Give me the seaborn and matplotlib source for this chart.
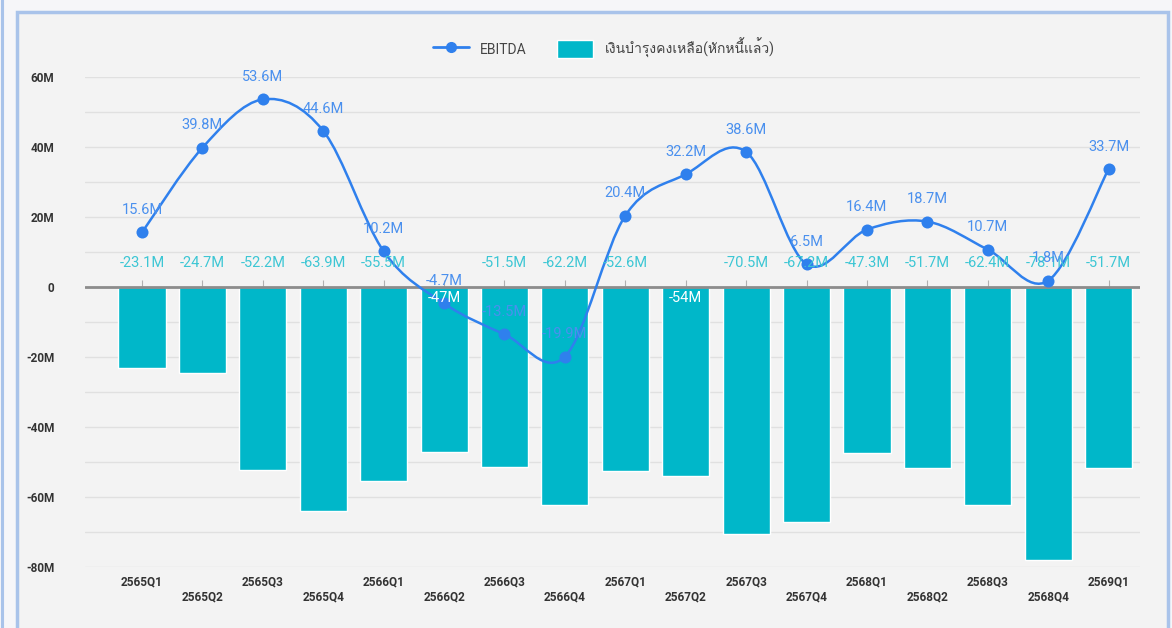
import numpy as np
import pandas as pd
import seaborn as sns
import matplotlib.pyplot as plt
from matplotlib import font_manager, ft2font
from matplotlib.path import Path
from matplotlib.patches import PathPatch, Rectangle
from matplotlib.lines import Line2D

quarters = ['2565Q1', '2565Q2', '2565Q3', '2565Q4', '2566Q1', '2566Q2', '2566Q3', '2566Q4',
            '2567Q1', '2567Q2', '2567Q3', '2567Q4', '2568Q1', '2568Q2', '2568Q3', '2568Q4', '2569Q1']
ebitda = [15.6, 39.8, 53.6, 44.6, 10.2, -4.7, -13.5, -19.9, 20.4, 32.2, 38.6, 6.5, 16.4, 18.7, 10.7, 1.8, 33.7]
balance = [-23.1, -24.7, -52.2, -63.9, -55.5, -47, -51.5, -62.2, -52.6, -54, -70.5, -67.2, -47.3, -51.7, -62.4, -78.1, -51.7]
ebitda_label = 'EBITDA'
balance_label = 'เงินบำรุงคงเหลือ(หักหนี้แล้ว)'

BAR = '#00b7c9'
BAR_TXT = '#3cc6d4'
LINE = '#2f80ed'
LINE_TXT = '#4a90ee'
BG = '#f3f3f3'

# find a font that has Thai glyphs
thai = []
for f in font_manager.fontManager.ttflist:
    try:
        if ft2font.FT2Font(f.fname).get_char_index(0x0E07):
            thai.append(f.name)
    except Exception:
        pass

sns.set_style('white')
plt.rcParams['font.family'] = ['Roboto'] + thai[:1] + ['DejaVu Sans']

df = pd.DataFrame({'q': quarters, 'ebitda': ebitda, 'bal': balance})
xs = np.arange(len(df))

fig = plt.figure(figsize=(11.72, 6.28), dpi=100, facecolor='#f6f6f9')
fig.patches.append(Rectangle((17 / 1172, -0.05), 1151 / 1172, 1 - 12 / 628 + 0.05, transform=fig.transFigure,
                             facecolor=BG, edgecolor='#a9c3ea', lw=2.5, zorder=0))
fig.patches.append(Rectangle((2 / 1172, -0.05), 1 / 1172, 1.1, transform=fig.transFigure,
                             facecolor='#a9c3ea', edgecolor='#a9c3ea', lw=1.5, zorder=0))

ax = fig.add_axes([85 / 1172, 1 - 567 / 628, 1055 / 1172, 490 / 628])
ax.set_zorder(2)
ax.set_facecolor(BG)

sns.barplot(data=df, x='q', y='bal', color=BAR, saturation=1, width=0.78, ax=ax, zorder=2)

# smooth EBITDA line (cardinal spline through the data points)
pts = np.column_stack([xs, df['ebitda'].values])
verts = [pts[0]]
codes = [Path.MOVETO]
n = len(pts)
for i in range(n - 1):
    p0 = pts[max(i - 1, 0)]
    p1 = pts[i]
    p2 = pts[i + 1]
    p3 = pts[min(i + 2, n - 1)]
    c1 = p1 + (p2 - p0) / 6
    c2 = p2 - (p3 - p1) / 6
    verts += [c1, c2, p2]
    codes += [Path.CURVE4] * 3
ax.add_patch(PathPatch(Path(verts, codes), facecolor='none', edgecolor=LINE, lw=1.8, zorder=4))
sns.scatterplot(data=df, x='q', y='ebitda', color=LINE, s=75, edgecolor=LINE, linewidth=0, ax=ax, zorder=5)

# labels
inside = {5, 9}
for i, v in enumerate(df['bal']):
    lab = f'{v:g}M'
    if i in inside:
        ax.text(i, -3.2, lab, ha='center', va='center', fontsize=10.5, color='white', zorder=6)
    else:
        ax.text(i, 6.9, lab, ha='center', va='center', fontsize=10.5, color=BAR_TXT, zorder=6)
for i, v in enumerate(df['ebitda']):
    ax.annotate(f'{v:g}M', (i, v), xytext=(0, 11), textcoords='offset points',
                ha='center', va='bottom', fontsize=10.5, color=LINE_TXT, zorder=6)

ax.set_ylim(-80, 60)
ax.set_xlim(-0.944, 16.52)
ax.set_yticks(np.arange(-80, 61, 20))
ax.set_yticks(np.arange(-70, 60, 20), minor=True)
ax.set_yticklabels([('0' if t == 0 else f'{t}M') for t in range(-80, 61, 20)])
ax.grid(axis='y', which='both', color='#e0e0e0', lw=1, zorder=0)
ax.axhline(0, color='#8c8c8c', lw=2, zorder=3)
ax.set_xticks(xs)
ax.set_xticklabels([q if i % 2 == 0 else '\n' + q for i, q in enumerate(quarters)])
ax.tick_params(axis='x', length=0, labelsize=8.5, labelcolor='#333333', pad=6)
ax.tick_params(axis='y', which='both', length=0, labelsize=8.5, labelcolor='#333333', pad=22)
for t in ax.get_xticklabels() + ax.get_yticklabels():
    t.set_fontweight('bold')
ax.set_xlabel('')
ax.set_ylabel('')
for s in ax.spines.values():
    s.set_visible(False)

# small ticks on the zero line
sec = ax.secondary_xaxis(80 / 140)
sec.set_xticks(xs)
sec.tick_params(axis='x', direction='out', length=5, color='#b0b0b0', labelbottom=False, labeltop=False)
sec.spines['top'].set_visible(False)
sec.spines['bottom'].set_visible(False)

handles = [Line2D([], [], color=LINE, lw=2, marker='o', markersize=7),
           Rectangle((0, 0), 1, 1, facecolor=BAR)]
fig.legend(handles, [ebitda_label, balance_label], loc='center', bbox_to_anchor=(0.515, 1 - 48 / 628),
           ncol=2, frameon=False, fontsize=10, handlelength=2.6, handleheight=1.6, columnspacing=2.2,
           labelcolor='#444444')

fig.savefig('out.png', dpi=100, facecolor=fig.get_facecolor())
